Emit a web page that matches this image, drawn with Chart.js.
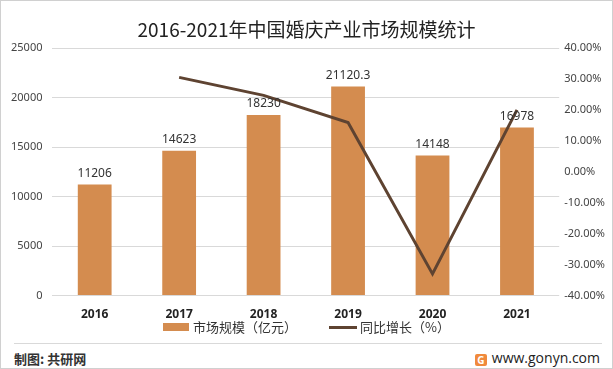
<!DOCTYPE html>
<html>
<head>
<meta charset="utf-8">
<script src="https://cdn.jsdelivr.net/npm/chart.js@4"></script>
<style>
  html, body { margin: 0; padding: 0; background: #fff; }
  #wrap { position: relative; width: 611px; height: 367px; border: 1px solid #d0d0d0; overflow: hidden;
          font-family: "Microsoft YaHei", "Noto Sans CJK SC", sans-serif; }
  #title { position: absolute; left: 0; right: 0; top: 14px; text-align: center; font-size: 19px; color: #222; }
  #legend { position: absolute; left: 0; right: 0; top: 318px; display: flex; justify-content: center; align-items: center;
            font-size: 13px; line-height: 16px; color: #333; }
  #legend .item { display: flex; align-items: center; }
  #legend .item + .item { margin-left: 32px; }
  #legend .box { width: 26px; height: 8px; margin-right: 4px; }
  #legend .line { width: 28px; height: 3px; margin-right: 3px; }
  #sep { position: absolute; left: 13px; right: 10px; top: 342px; border-top: 1px solid #d9d9d9; }
  #maker { position: absolute; left: 13px; top: 348px; font-size: 13px; font-weight: bold; color: #333; }
  #site { position: absolute; right: 12px; top: 347px; font-size: 14px; color: #222; font-family: "Open Sans", "Noto Sans", sans-serif; }
  #logo { display: inline-block; width: 12px; height: 12px; background: #f08a3c; border-radius: 2px; vertical-align: -1px;
          margin-right: 5px; color: #fff; font-size: 10px; line-height: 12px; text-align: center; font-weight: bold; }
  canvas { position: absolute; left: 0; top: 0; }
</style>
</head>
<body>
<div id="wrap">
  <canvas id="chart" width="611" height="333"></canvas>
  <div id="title">2016-2021年中国婚庆产业市场规模统计</div>
  <div id="legend"></div>
  <div id="sep"></div>
  <div id="maker">制图: 共研网</div>
  <div id="site"><span id="logo">G</span>www.gonyn.com</div>
</div>
<script>
// data
const years = ['2016', '2017', '2018', '2019', '2020', '2021'];
const marketSize = [11206, 14623, 18230, 21120.3, 14148, 16978];
const marketLabels = ['11206', '14623', '18230', '21120.3', '14148', '16978'];
const growth = [null, 30.5, 24.7, 15.9, -33.0, 20.0];

// value labels above the bars
const barLabels = {
    id: 'barLabels',
    afterDatasetsDraw(chart) {
        const ctx = chart.ctx;
        const meta = chart.getDatasetMeta(0);
        ctx.save();
        ctx.font = '12px "Noto Sans", sans-serif';
        ctx.fillStyle = '#333';
        ctx.textAlign = 'center';
        ctx.textBaseline = 'bottom';
        meta.data.forEach(function(bar, i) {
            ctx.fillText(marketLabels[i], bar.x, bar.y - 5);
        });
        ctx.restore();
    }
};

const ctx = document.getElementById('chart').getContext('2d');
const chart = new Chart(ctx, {
    data: {
        labels: years,
        datasets: [
            {
                type: 'bar',
                label: '市场规模（亿元）',
                data: marketSize,
                backgroundColor: '#d48c4f',
                yAxisID: 'y',
                order: 1,
                categoryPercentage: 1,
                barPercentage: 0.4
            },
            {
                type: 'line',
                label: '同比增长（%）',
                data: growth,
                borderColor: '#5e4331',
                backgroundColor: '#5e4331',
                borderWidth: 3,
                pointRadius: 0,
                tension: 0,
                yAxisID: 'y1',
                order: 0
            }
        ]
    },
    options: {
        responsive: false,
        animation: false,
        layout: {
            padding: { top: 47, left: 0, right: 2, bottom: 0 }
        },
        scales: {
            x: {
                grid: { display: false, drawTicks: false },
                border: { display: false },
                ticks: {
                    color: '#222',
                    font: { size: 12, weight: 'bold', family: '"Noto Sans", sans-serif' },
                    padding: 12
                }
            },
            y: {
                position: 'left',
                min: 0,
                max: 25000,
                ticks: {
                    stepSize: 5000,
                    color: '#444',
                    font: { size: 11, family: '"Noto Sans", sans-serif' },
                    padding: 10,
                    callback: function(v) { return String(v); }
                },
                grid: { color: '#d9d9d9', drawTicks: false },
                border: { display: false }
            },
            y1: {
                position: 'right',
                min: -40,
                max: 40,
                ticks: {
                    stepSize: 10,
                    color: '#444',
                    font: { size: 11, family: '"Noto Sans", sans-serif' },
                    padding: 5,
                    callback: function(v) { return v.toFixed(2) + '%'; }
                },
                grid: { display: false, drawTicks: false },
                border: { display: false }
            }
        },
        plugins: {
            legend: { display: false },
            tooltip: { enabled: false }
        }
    },
    plugins: [barLabels]
});

// legend built from the datasets
const legendEl = document.getElementById('legend');
chart.data.datasets.forEach(function(ds) {
    const item = document.createElement('div');
    item.className = 'item';
    const mark = document.createElement('span');
    mark.className = ds.type === 'bar' ? 'box' : 'line';
    mark.style.background = ds.type === 'bar' ? ds.backgroundColor : ds.borderColor;
    const text = document.createElement('span');
    text.textContent = ds.label;
    item.appendChild(mark);
    item.appendChild(text);
    legendEl.appendChild(item);
});
</script>
</body>
</html>
